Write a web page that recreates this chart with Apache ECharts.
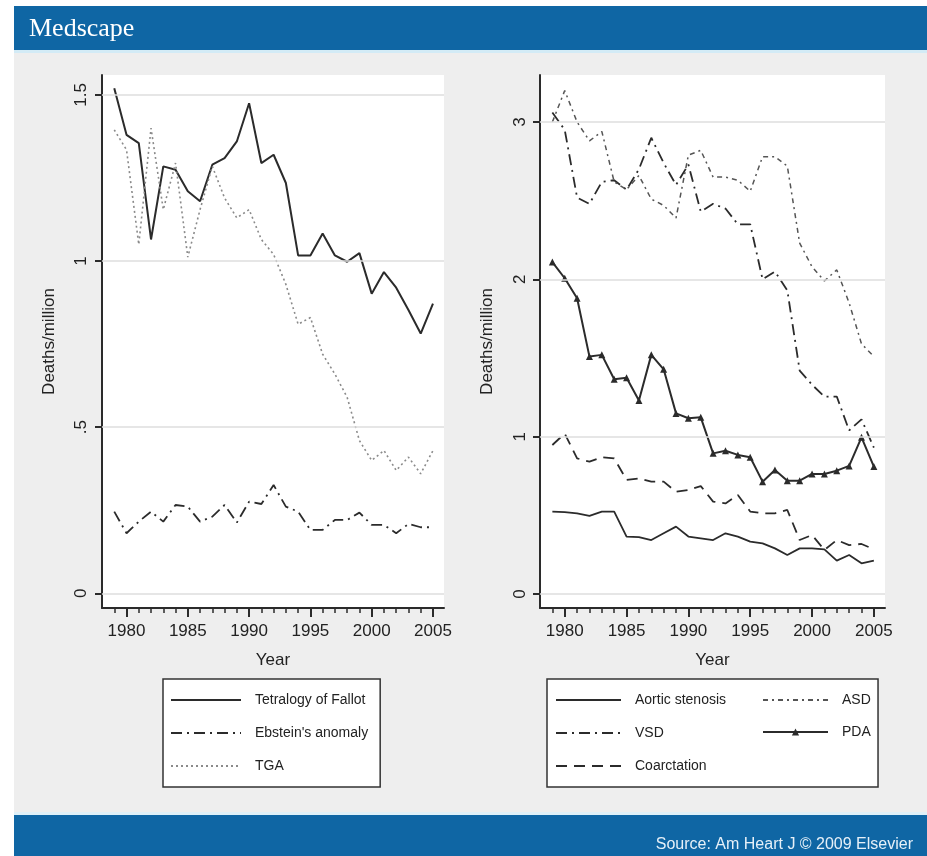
<!DOCTYPE html>
<html>
<head>
<meta charset="utf-8">
<title>Mortality from congenital heart defects, 1979–2005</title>
<script src="https://cdn.jsdelivr.net/npm/echarts@6/dist/echarts.min.js"></script>
<style>
  html, body { margin: 0; padding: 0; background: #ffffff; }
  #chart { width: 927px; height: 856px; }
</style>
</head>
<body>
<div id="chart"></div>
<script>
// Years of observation
const years = [1979, 1980, 1981, 1982, 1983, 1984, 1985, 1986, 1987, 1988, 1989, 1990, 1991,
               1992, 1993, 1994, 1995, 1996, 1997, 1998, 1999, 2000, 2001, 2002, 2003, 2004, 2005];
const yearLabels = [1980, 1985, 1990, 1995, 2000, 2005];
const leftTicks = [0, 0.5, 1, 1.5];
const rightTicks = [0, 1, 2, 3];

// Left panel: deaths per million
const tetralogy = [1.52, 1.38, 1.355, 1.065, 1.285, 1.275, 1.21, 1.18, 1.29, 1.31, 1.36, 1.475, 1.295,
                   1.32, 1.235, 1.017, 1.017, 1.083, 1.017, 0.998, 1.024, 0.902, 0.967, 0.92, 0.853, 0.782, 0.872];
const ebstein = [0.246, 0.181, 0.216, 0.246, 0.216, 0.266, 0.261, 0.216, 0.231, 0.266, 0.213, 0.276, 0.269,
                 0.326, 0.261, 0.246, 0.191, 0.191, 0.221, 0.221, 0.243, 0.206, 0.206, 0.181, 0.209, 0.199, 0.199];
const tga = [1.395, 1.335, 1.05, 1.40, 1.155, 1.295, 1.012, 1.155, 1.285, 1.19, 1.13, 1.155, 1.065,
             1.02, 0.93, 0.81, 0.83, 0.72, 0.66, 0.59, 0.46, 0.40, 0.43, 0.37, 0.41, 0.36, 0.43];

// Right panel: deaths per million
const aortic = [0.523, 0.52, 0.513, 0.496, 0.523, 0.523, 0.365, 0.361, 0.343, 0.386, 0.428, 0.365, 0.354,
                0.343, 0.386, 0.365, 0.333, 0.322, 0.29, 0.248, 0.29, 0.29, 0.284, 0.212, 0.248, 0.195, 0.212];
const vsd = [3.06, 2.95, 2.52, 2.48, 2.62, 2.63, 2.57, 2.70, 2.90, 2.74, 2.60, 2.73, 2.43,
             2.48, 2.45, 2.35, 2.35, 2.0, 2.05, 1.93, 1.42, 1.33, 1.255, 1.255, 1.04, 1.11, 0.93];
const coarctation = [0.947, 1.02, 0.862, 0.841, 0.869, 0.862, 0.725, 0.735, 0.714, 0.714, 0.65, 0.661, 0.686,
                     0.587, 0.576, 0.629, 0.524, 0.513, 0.513, 0.534, 0.343, 0.375, 0.28, 0.343, 0.311, 0.318, 0.284];
const asd = [3.0, 3.2, 3.0, 2.88, 2.94, 2.62, 2.57, 2.66, 2.51, 2.47, 2.39, 2.79, 2.82,
             2.65, 2.65, 2.63, 2.56, 2.78, 2.78, 2.72, 2.23, 2.08, 1.99, 2.06, 1.85, 1.59, 1.51];
const pda = [2.11, 2.007, 1.88, 1.509, 1.52, 1.365, 1.375, 1.23, 1.52, 1.428, 1.148, 1.117, 1.123,
             0.894, 0.911, 0.884, 0.869, 0.714, 0.788, 0.72, 0.72, 0.763, 0.763, 0.784, 0.814, 0.996, 0.81];

const FONT = '"Liberation Sans", Arial, Helvetica, sans-serif';
const INK = '#2b2b2b';
const BLUE = '#0f66a4';

const pairs = arr => years.map((y, i) => [y, arr[i]]);

function lineSeries(name, data, xi, yi, style, extra) {
  return Object.assign({
    name: name,
    type: 'line',
    xAxisIndex: xi,
    yAxisIndex: yi,
    data: pairs(data),
    symbol: 'none',
    smooth: false,
    z: 3,
    lineStyle: style,
    itemStyle: { color: style.color },
    emphasis: { disabled: true }
  }, extra || {});
}

function gridLines(xi, yi, ticks) {
  return {
    type: 'line', xAxisIndex: xi, yAxisIndex: yi, data: [], z: 1, silent: true,
    markLine: {
      silent: true, symbol: 'none', animation: false,
      label: { show: false },
      lineStyle: { color: '#dedede', type: 'solid', width: 1.5 },
      data: ticks.map(v => ({ yAxis: v }))
    }
  };
}

function mainX(gi) {
  return {
    gridIndex: gi, type: 'value', min: 1978, max: 2005.9, position: 'bottom',
    axisLine: { show: true, onZero: false, lineStyle: { color: INK, width: 2 } },
    axisTick: { show: true, customValues: yearLabels, length: 9, lineStyle: { color: INK, width: 2 } },
    axisLabel: { customValues: yearLabels, margin: 15, fontSize: 17, color: '#222', fontFamily: FONT,
                 formatter: v => String(v) },
    splitLine: { show: false },
    name: 'Year', nameLocation: 'middle', nameGap: 44,
    nameTextStyle: { fontSize: 17, color: '#222', fontFamily: FONT }
  };
}

function minorX(gi) {
  return {
    gridIndex: gi, type: 'value', min: 1978, max: 2005.9, position: 'bottom',
    axisLine: { show: false, onZero: false },
    axisTick: { show: true, customValues: years, length: 5, lineStyle: { color: INK, width: 1.5 } },
    axisLabel: { show: false },
    splitLine: { show: false }
  };
}

function mainY(gi, min, max, ticks, margin, fmt) {
  return {
    gridIndex: gi, type: 'value', min: min, max: max,
    axisLine: { show: true, onZero: false, lineStyle: { color: INK, width: 2 } },
    axisTick: { show: true, customValues: ticks, length: 7, lineStyle: { color: INK, width: 2 } },
    axisLabel: { customValues: ticks, rotate: 90, margin: margin, fontSize: 17, color: '#222',
                 fontFamily: FONT, formatter: fmt },
    splitLine: { show: false },
    name: 'Deaths/million', nameLocation: 'middle', nameRotate: 90, nameGap: 44,
    nameTextStyle: { fontSize: 17, color: '#222', fontFamily: FONT }
  };
}

const legendText = { fontSize: 14, color: '#222', fontFamily: FONT, padding: [0, 0, 0, 9] };
// Plain line keys: no marker drawn on the key
const plainKey = name => ({ name: name, itemStyle: { color: 'transparent', borderColor: 'transparent', borderWidth: 0 } });

const option = {
  animation: false,
  backgroundColor: 'transparent',
  graphic: [
    { type: 'rect', z: -10, shape: { x: 14, y: 50, width: 913, height: 765 }, style: { fill: '#eeeeee' } },
    { type: 'rect', z: -9, shape: { x: 14, y: 6, width: 913, height: 44 }, style: { fill: BLUE } },
    { type: 'rect', z: -9, shape: { x: 14, y: 50, width: 913, height: 3 }, style: { fill: '#d3ebf6' } },
    { type: 'rect', z: -9, shape: { x: 14, y: 812, width: 913, height: 3 }, style: { fill: '#dff0f8' } },
    { type: 'rect', z: -9, shape: { x: 14, y: 815, width: 913, height: 41 }, style: { fill: BLUE } }
  ],
  title: [
    { text: 'Medscape', left: 24, top: 11,
      textStyle: { fontFamily: '"Liberation Serif", "Times New Roman", serif', fontSize: 26,
                   fontWeight: 'normal', color: '#ffffff' } },
    { text: 'Source: Am Heart J © 2009 Elsevier', right: 9, top: 832,
      textStyle: { fontFamily: FONT, fontSize: 16, fontWeight: 'normal', color: '#e6f0f8' } }
  ],
  grid: [
    { left: 102, right: 483, top: 75, bottom: 248, show: true, backgroundColor: '#ffffff', borderWidth: 0 },
    { left: 540, right: 42, top: 75, bottom: 248, show: true, backgroundColor: '#ffffff', borderWidth: 0 }
  ],
  xAxis: [mainX(0), minorX(0), mainX(1), minorX(1)],
  yAxis: [
    mainY(0, -0.044, 1.56, leftTicks, 12, v => String(v).replace(/^0\./, '.')),
    mainY(1, -0.089, 3.299, rightTicks, 11, v => String(v))
  ],
  legend: [
    { left: 163, top: 679, orient: 'vertical', selectedMode: false,
      data: [plainKey('Tetralogy of Fallot'), plainKey("Ebstein's anomaly"), plainKey('TGA')],
      itemWidth: 70, itemHeight: 14, itemGap: 19, padding: [14, 12, 14, 7],
      backgroundColor: '#ffffff', borderColor: '#333', borderWidth: 1.5, textStyle: legendText },
    { left: 547, top: 679, orient: 'vertical', selectedMode: false,
      data: [plainKey('Aortic stenosis'), plainKey('VSD'), plainKey('Coarctation')],
      itemWidth: 65, itemHeight: 14, itemGap: 19, padding: [14, 152, 14, 8],
      backgroundColor: '#ffffff', borderColor: '#333', borderWidth: 1.5, textStyle: legendText },
    { left: 762, top: 679, orient: 'vertical', selectedMode: false, z: 5,
      data: [plainKey('ASD'), { name: 'PDA' }],
      itemWidth: 65, itemHeight: 9, itemGap: 18, padding: [14, 0, 14, 0],
      backgroundColor: 'transparent', borderWidth: 0, textStyle: legendText }
  ],
  series: [
    gridLines(0, 0, leftTicks),
    gridLines(2, 1, rightTicks),
    lineSeries('Tetralogy of Fallot', tetralogy, 0, 0, { color: INK, width: 2, type: 'solid' }),
    lineSeries("Ebstein's anomaly", ebstein, 0, 0, { color: INK, width: 1.8, type: [11, 5, 2, 5] }),
    lineSeries('TGA', tga, 0, 0, { color: '#8a8a8a', width: 1.6, type: [2, 3] }),
    lineSeries('Aortic stenosis', aortic, 2, 1, { color: INK, width: 1.8, type: 'solid' }),
    lineSeries('VSD', vsd, 2, 1, { color: INK, width: 1.8, type: [11, 5, 2, 5] }),
    lineSeries('Coarctation', coarctation, 2, 1, { color: INK, width: 1.8, type: [11, 7] }),
    lineSeries('ASD', asd, 2, 1, { color: '#555555', width: 1.5, type: [5, 4, 2, 4] }),
    lineSeries('PDA', pda, 2, 1, { color: INK, width: 2, type: 'solid' },
               { symbol: 'triangle', symbolSize: 7, showSymbol: true })
  ]
};

const chart = echarts.init(document.getElementById('chart'), null, { renderer: 'canvas' });
chart.setOption(option);
</script>
</body>
</html>
